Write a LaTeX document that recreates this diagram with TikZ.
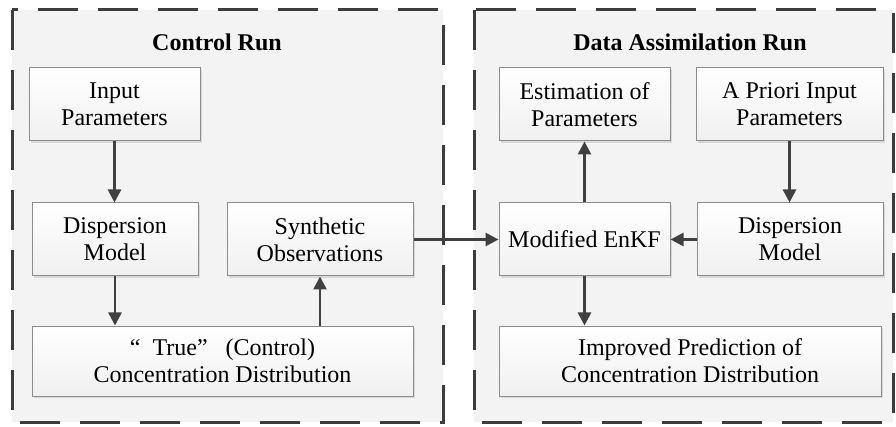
\documentclass[tikz,border=0pt]{standalone}
\usepackage{fontspec}
\setmainfont{Liberation Serif}
\usetikzlibrary{arrows.meta,shadows}
\definecolor{panelfill}{HTML}{F3F3F3}
\definecolor{dashcol}{HTML}{3C3C3C}
\definecolor{boxline}{HTML}{8C8C8C}
\definecolor{arrowcol}{HTML}{404040}
\tikzset{
  panel/.style={draw=dashcol, line width=3pt, dash pattern=on 40pt off 20pt, fill=panelfill},
  stepbox/.style={draw=boxline, line width=1pt, top color=white, bottom color=gray!12,
    align=center, inner sep=0pt, minimum height=73pt,
    font=\fontsize{24}{27}\selectfont,
    drop shadow={shadow xshift=2pt, shadow yshift=-2pt, fill=gray!45, opacity=0.6}},
  paneltitle/.style={font=\fontsize{24}{27}\selectfont\bfseries},
  flow/.style={draw=arrowcol, line width=2.6pt, -{Triangle[length=13pt,width=13pt]}}
}
\begin{document}
\begin{tikzpicture}[x=1pt,y=-1pt]
\useasboundingbox (0,0) rectangle (896,427);
\path[panel] (12,10) rectangle (443,422);
\path[panel] (474,10) rectangle (893,422);
\node[paneltitle] (t1) at (217,42) {Control Run};
\node[paneltitle] (t2) at (690,42) {Data Assimilation Run};

\node[stepbox, minimum width=171pt] (inp) at (114.5,104.5) {Input\\Parameters};
\node[stepbox, minimum width=166pt] (disp) at (115,239.5) {Dispersion\\Model};
\node[stepbox, minimum width=186pt] (syn) at (320,239.5) {Synthetic\\Observations};
\node[stepbox, minimum width=381pt, minimum height=70pt] (true) at (222.5,361) {“~~True”~~~(Control)\\Concentration Distribution};

\node[stepbox, minimum width=171pt] (est) at (584.5,104.5) {Estimation of\\Parameters};
\node[stepbox, minimum width=187pt] (apr) at (789.5,104.5) {A Priori Input\\Parameters};
\node[stepbox, minimum width=171pt] (mod) at (584.5,239.5) {Modified EnKF};
\node[stepbox, minimum width=186pt] (disp2) at (790,239.5) {Dispersion\\Model};
\node[stepbox, minimum width=382pt, minimum height=70pt] (imp) at (690,361) {Improved Prediction of\\Concentration Distribution};

\draw[flow] (inp.south) -- (inp.south |- disp.north);
\draw[flow] (disp.south) -- (disp.south |- true.north);
\draw[flow] (true.north -| syn.south) -- (syn.south);
\draw[flow] (syn.east) -- (mod.west);
\draw[flow] (mod.north) -- (est.south);
\draw[flow] (apr.south) -- (apr.south |- disp2.north);
\draw[flow] (disp2.west) -- (mod.east);
\draw[flow] (mod.south) -- (mod.south |- imp.north);
\end{tikzpicture}
\end{document}
